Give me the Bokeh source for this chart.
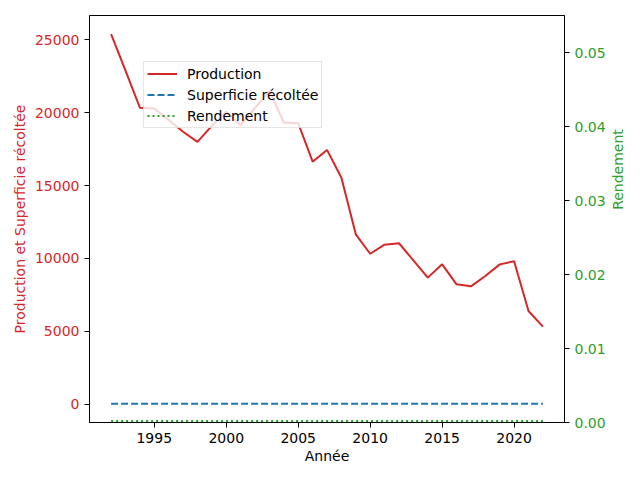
import math
from bokeh.plotting import figure
from bokeh.layouts import row
from bokeh.models import (Range1d, LinearAxis, Legend, LegendItem, SingleIntervalTicker,
                          CustomJSTickFormatter, Label)
from bokeh.embed import file_html
from bokeh.resources import INLINE

annees = list(range(1992, 2023))
production = [25400, 22900, 20350, 20300, 19500, 18700, 18000, 19100, 20080, 19160,
              20330, 21500, 19330, 19280, 16640, 17450, 15540, 11650, 10320, 10940,
              11040, 9870, 8680, 9590, 8220, 8080, 8790, 9590, 9800, 6390, 5310]
superficie = [15] * len(annees)
rendement = [0.0002] * len(annees)

RED = "#d62728"
BLUE = "#1f77b4"
GREEN = "#2ca02c"
FONT = "DejaVu Sans"
FS = "14px"

p = figure(width=608, height=472, output_backend="svg", toolbar_location=None,
           x_range=Range1d(1990.5, 2023.5), y_range=Range1d(-1270, 26680),
           min_border_left=89, min_border_right=43, min_border_top=15, min_border_bottom=50)
p.extra_y_ranges = {"right": Range1d(0, 0.055)}
p.grid.visible = False
p.outline_line_color = "black"
p.outline_line_width = 1
p.background_fill_color = "white"

r1 = p.line(annees, production, color=RED, line_width=2)
r2 = p.line(annees, superficie, color=BLUE, line_width=2, line_dash="7 3")
r3 = p.line(annees, rendement, color=GREEN, line_width=2, line_dash="2 3", y_range_name="right")

for ax in [p.xaxis[0], p.yaxis[0]]:
    ax.major_tick_out = 5
    ax.major_tick_in = 0
    ax.minor_tick_line_color = None
    ax.axis_line_color = "black"
    ax.major_tick_line_color = "black"
    ax.major_label_text_font = FONT
    ax.major_label_text_font_size = FS
    ax.axis_label_text_font = FONT
    ax.axis_label_text_font_size = FS
    ax.axis_label_text_font_style = "normal"

p.xaxis[0].ticker = SingleIntervalTicker(interval=5)
p.xaxis[0].axis_label = "Année"
p.xaxis[0].major_label_text_color = "black"
p.xaxis[0].axis_label_text_color = "black"
p.xaxis[0].axis_label_standoff = 2

p.yaxis[0].ticker = SingleIntervalTicker(interval=5000)
p.yaxis[0].axis_label = "Production et Superficie récoltée"
p.yaxis[0].axis_label_text_color = RED
p.yaxis[0].major_label_text_color = RED
p.yaxis[0].axis_label_standoff = 4

ry = LinearAxis(y_range_name="right", ticker=SingleIntervalTicker(interval=0.01))
ry.major_tick_out = 5
ry.major_tick_in = 0
ry.minor_tick_line_color = None
ry.axis_line_color = "black"
ry.major_tick_line_color = "black"
ry.major_label_text_font = FONT
ry.major_label_text_font_size = FS
ry.major_label_text_color = GREEN
ry.formatter = CustomJSTickFormatter(code="return tick.toFixed(2);")
p.add_layout(ry, "right")

legend = Legend(items=[LegendItem(label="Production", renderers=[r1]),
                       LegendItem(label="Superficie récoltée", renderers=[r2]),
                       LegendItem(label="Rendement", renderers=[r3])],
                location=(54, 294), margin=0, padding=3, spacing=4,
                glyph_width=30, glyph_height=17, label_height=17, label_standoff=10,
                label_text_font=FONT, label_text_font_size=FS, label_text_color="black",
                border_line_color="#cccccc", border_line_width=1,
                background_fill_alpha=0.8)
p.add_layout(legend)

# narrow panel holding the right-axis title, reading bottom-to-top
p2 = figure(width=24, height=472, output_backend="svg", toolbar_location=None,
            x_range=Range1d(0, 1), y_range=Range1d(0, 1),
            x_axis_location=None, y_axis_location=None,
            min_border_left=0, min_border_right=0, min_border_top=0, min_border_bottom=0)
p2.grid.visible = False
p2.outline_line_color = None
p2.add_layout(Label(x=9, y=253, x_units="screen", y_units="screen", text="Rendement",
                    angle=math.pi / 2, text_align="center", text_baseline="middle",
                    text_font=FONT, text_font_size=FS, text_color=GREEN))

open("out.html", "w").write(file_html(row(p, p2), INLINE))
